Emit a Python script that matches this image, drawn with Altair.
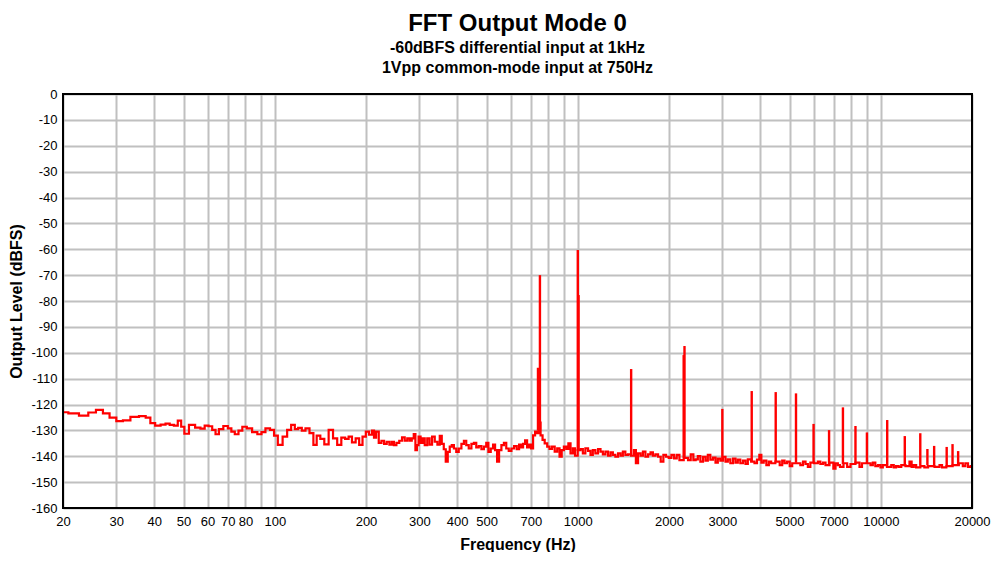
import altair as alt
import pandas as pd

# ---- noise floor (Hz, dBFS) ----
NOISE_FREQ = [
    20.0, 21.7, 23.5, 25.0, 26.4, 27.8, 29.2, 30.8, 32.3, 34.5, 36.8, 38.2, 39.5, 41.1,
    42.9, 44.3, 45.7, 47.2, 48.5, 49.7, 50.9, 53.3, 55.9, 57.8, 59.6, 61.3, 63.0, 64.5,
    66.3, 69.0, 71.0, 72.8, 74.8, 77.0, 79.3, 82.4, 86.0, 89.2, 91.6, 94.7, 98.2, 100.7,
    104.0, 108.3, 111.4, 115.1, 117.8, 121.1, 124.5, 128.0, 132.4, 135.8, 139.2, 143.5,
    147.9, 153.3, 158.1, 163.3, 168.3, 173.0, 177.5, 182.1, 187.7, 192.1, 197.5, 202.0,
    207.3, 211.4,
    213.7, 218.1, 222.6, 227.2, 231.8, 236.5, 241.4, 245.1, 249.4, 254.6, 260.4, 265.7,
    271.2, 276.1, 281.0, 285.3, 289.7, 292.6, 296.4, 300.1, 305.5, 309.4, 315.7, 321.4,
    327.1, 333.8, 340.7, 347.6, 353.0, 358.4, 363.9, 369.4, 375.1, 380.8, 386.7, 393.6,
    400.6, 408.8, 417.2, 424.6, 432.2, 441.1, 450.1, 458.2, 466.4, 475.9, 485.7, 494.4,
    503.2, 510.9, 521.3, 529.3, 537.5, 545.7, 554.0, 565.3, 575.5, 585.8, 597.8, 610.0,
    622.5, 635.3, 645.0, 654.9, 664.9, 675.1, 685.4, 695.9, 706.5, 717.4, 728.4, 737.7,
    747.0, 760.4,
    769.8, 785.6, 799.7, 814.0, 830.6, 847.6, 863.0, 878.2, 891.8, 907.6, 923.8, 938.0,
    954.8, 971.9, 986.8, 1012, 1030, 1048.6, 1070, 1092, 1111, 1131, 1154.6, 1178, 1199,
    1221, 1246, 1271, 1294, 1317, 1344, 1372, 1396, 1421, 1450, 1480, 1518, 1545, 1565,
    1597, 1626, 1655, 1689, 1723, 1754, 1785, 1822, 1859, 1897, 1936, 1976, 2016, 2058,
    2100, 2143, 2187, 2288, 2335, 2383, 2431,
    2468, 2512, 2564, 2616, 2663, 2710, 2766, 2823, 2873, 2924, 2984, 3045, 3100, 3155,
    3220, 3286, 3344, 3404, 3474, 3545, 3609, 3673, 3796, 3864, 3943, 4004, 4066, 4149,
    4234, 4309, 4386, 4592, 4686, 4770, 4855, 4955, 5056, 5146, 5372, 5482, 5594, 5695,
    5796, 5915, 6144, 6253, 6381, 6512, 6628, 6921, 7027, 7152, 7280, 7391,
    7676, 7814, 8075, 8432, 8581, 8757, 9165, 9330, 9496, 9690, 9888, 10065, 10246, 10721,
    10940, 11135, 11334, 11566, 11802, 12326, 12546, 12738, 12966, 13198, 13820, 14031,
    14612, 15488, 15765, 16086, 16837, 17708, 18490, 18819, 19204, 19598, 20000,
]
NOISE_DB = [
    -123.0, -123.4, -124.3, -123.1, -122.1, -123.4, -125.1, -126.4, -126.1, -124.8, -124.5,
    -125.1, -127.2, -128.2, -127.8, -127.4, -127.9, -128.2, -126.2, -128.6, -131.3, -127.9,
    -128.9, -129.3, -128.2, -128.4, -129.8, -131.5,
    -129.5, -128.3, -129.2, -130.5, -131.5, -130.1, -128.6, -129.2, -130.7, -131.5, -130.7,
    -129.2, -129.8, -132.0, -135.6, -132.4, -129.8, -127.9, -129.5, -129.0, -130.1, -129.2,
    -131.1, -135.6, -132.0, -133.3, -135.4, -129.8, -133.1, -135.6, -132.8, -133.3, -132.4,
    -134.6, -133.1, -135.6, -132.4, -130.5, -131.7, -130.1,
    -132.8, -130.5, -134.8, -134.0, -135.2, -134.4, -135.5, -134.4, -135.7, -134.8, -134.0,
    -132.7, -134.0, -133.1, -134.0, -133.1, -131.4, -137.6, -135.7, -132.4, -134.8, -133.1,
    -135.7, -133.1, -135.5, -132.4, -134.4, -135.5, -132.1, -135.2, -137.3, -142.1, -138.3,
    -136.3, -135.7, -137.0, -138.3, -137.0, -135.2, -134.0, -135.7, -137.0, -135.2, -134.8,
    -136.6, -136.1, -137.3, -136.3, -134.8, -138.3, -137.0, -135.5, -137.6, -142.1, -137.6,
    -135.7, -134.8, -137.0, -137.9, -137.0, -136.1, -137.3, -135.5, -136.6, -135.2, -133.9,
    -136.6, -135.5, -137.0, -131.9, -130.5, -131.1, -127.0, -131.9,
    -133.7, -135.0, -136.3, -137.2, -136.3, -138.2, -136.9, -140.2, -137.6, -136.3, -137.2,
    -135.0, -138.9, -136.9, -139.8, -137.6, -137.2, -138.9, -136.9, -137.9, -139.5, -137.6,
    -138.9, -137.2, -138.2, -139.3, -138.2, -139.8, -138.5, -139.5, -140.2, -138.9, -139.8,
    -138.2, -139.5, -139.3, -139.8, -137.6, -142.7, -138.9, -139.8, -138.2, -140.2, -139.3,
    -138.5, -139.8, -139.3, -140.2, -142.1, -139.5, -140.2, -140.6, -139.5, -140.8, -139.5,
    -141.5, -140.6, -141.5, -139.3, -141.5,
    -141.2, -139.9, -142.1, -140.2, -141.7, -139.5, -141.3, -140.5, -142.5, -140.9, -141.7,
    -140.2, -142.1, -141.2, -142.7, -140.9, -142.5, -141.3, -142.7, -141.7, -143.0, -141.2,
    -142.1, -142.7, -141.3, -139.5, -142.5, -141.7, -143.4, -142.1, -142.7, -142.1, -143.4,
    -141.7, -142.7, -142.1, -143.8, -142.7, -142.7, -143.4, -142.1, -143.0, -144.1, -142.5,
    -142.7, -142.1, -143.0, -142.5, -143.4, -142.5, -144.8, -142.7, -143.4, -144.1,
    -142.7, -144.1, -143.0, -142.5, -144.1, -142.7, -142.7, -143.4, -142.5, -143.8, -143.4,
    -144.3, -143.4, -144.1, -143.4, -144.3, -143.8, -144.1, -143.4, -143.8, -142.1, -144.1,
    -143.4, -144.3, -143.8, -144.3, -143.8, -144.1, -143.4, -144.3, -143.8, -143.4, -142.7,
    -143.8, -142.7, -144.1, -143.8,
]

# ---- tones / spurs (Hz, peak dBFS, floor under the peak) ----
SPIKE_FREQ = [739, 750, 1000, 1006, 1500, 2236, 2250, 3000, 3750, 4500, 5250, 6000, 6750,
              7500, 8250, 9000, 10500, 12000, 13500, 14250, 15000, 16500, 17250, 18000]
SPIKE_PEAK = [-105.8, -70.0, -60.3, -77.7, -106.3, -100.9, -97.4, -121.7, -114.8, -115.2,
              -115.7, -127.5, -129.9, -121.1, -128.3, -130.8, -126.0, -132.2, -131.1, -137.2,
              -136.0, -136.4, -135.3, -138.0]
SPIKE_BASE = [-130.0, -130.0, -138.0, -138.0, -139.5, -140.5, -140.5, -141.5, -142.0, -142.0,
              -142.5, -142.5, -143.0, -143.0, -143.0, -143.0, -143.5, -143.5, -143.5, -143.5,
              -143.5, -143.5, -143.5, -143.5]

GRID_FREQ = [20, 30, 40, 50, 60, 70, 80, 90, 100, 200, 300, 400, 500, 600, 700, 800, 900,
             1000, 2000, 3000, 4000, 5000, 6000, 7000, 8000, 9000, 10000, 20000]
LABEL_FREQ = [20, 30, 40, 50, 60, 70, 80, 100, 200, 300, 400, 500, 700, 1000, 2000, 3000,
              5000, 7000, 10000, 20000]
Y_TICKS = list(range(-160, 1, 10))

TITLE = "FFT Output Mode 0"
SUBTITLE = ["-60dBFS differential input at 1kHz", "1Vpp common-mode input at 750Hz"]

FONT = "Liberation Sans, Arial, sans-serif"
W, H = 909, 414

noise = pd.DataFrame({"f": NOISE_FREQ, "db": NOISE_DB})
spikes = pd.DataFrame({"f": SPIKE_FREQ, "peak": SPIKE_PEAK, "base": SPIKE_BASE})

xscale = alt.Scale(type="log", domain=[20, 20000], nice=False)
yscale = alt.Scale(domain=[-160, 0], nice=False, zero=False)

label_list = ",".join(str(v) for v in LABEL_FREQ)
axis_style = dict(
    grid=True, gridColor="#c0c0c0", gridWidth=2, gridOpacity=1,
    domain=False, ticks=False, labelOverlap=False,
    labelFont=FONT, labelFontSize=13, labelColor="black",
    titleFont=FONT, titleFontSize=16, titleFontWeight="bold", titleColor="black",
)
xaxis = alt.Axis(
    values=GRID_FREQ, labelFlush=False,
    labelExpr=f"indexof([{label_list}], datum.value) >= 0 ? '' + datum.value : ''",
    title="Frequency (Hz)", labelPadding=7, titlePadding=8, **axis_style,
)
yaxis = alt.Axis(values=Y_TICKS, labelExpr="'' + datum.value",
                 title="Output Level (dBFS)", labelPadding=6, titlePadding=6, **axis_style)

line = alt.Chart(noise).mark_line(color="#ff0000", strokeWidth=2.2, interpolate="step",
                                  clip=True).encode(
    x=alt.X("f:Q", scale=xscale, axis=xaxis),
    y=alt.Y("db:Q", scale=yscale, axis=yaxis),
)

rules = alt.Chart(spikes).mark_rule(color="#ff0000", strokeWidth=2.4, clip=True).encode(
    x=alt.X("f:Q", scale=xscale, axis=xaxis),
    y=alt.Y("peak:Q", scale=yscale, axis=yaxis),
    y2="base:Q",
)

frame = alt.Chart(pd.DataFrame({"a": [0]})).mark_rect(
    fill="white", fillOpacity=0, stroke="black", strokeWidth=2
).encode(x=alt.value(0), x2=alt.value(W), y=alt.value(0), y2=alt.value(H))

chart = alt.layer(line, rules, frame).properties(
    width=W, height=H, background="white",
    title=alt.TitleParams(
        text=TITLE, subtitle=SUBTITLE, anchor="middle",
        font=FONT, fontSize=24, fontWeight="bold", color="black",
        subtitleFont=FONT, subtitleFontSize=16, subtitleFontWeight="bold",
        subtitleColor="black", subtitleLineHeight=20, subtitlePadding=4, offset=12,
    ),
    autosize=alt.AutoSizeParams(type="none"),
    padding={"left": 55, "top": 86, "right": 26, "bottom": 44},
).configure_view(stroke=None)

chart.save("out.html", embed_options={"renderer": "svg", "actions": False})
